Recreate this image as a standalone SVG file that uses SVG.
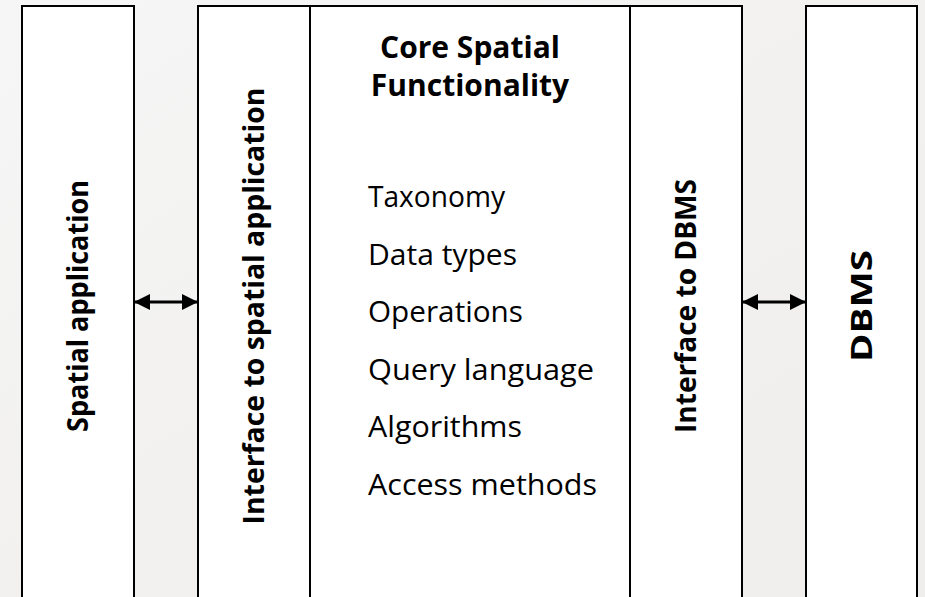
<svg xmlns="http://www.w3.org/2000/svg" width="925" height="597" viewBox="0 0 925 597">
<style>
.box{fill:#ffffff;stroke:#000000;stroke-width:2}
.vlab{font-family:"Open Sans","Noto Sans","Liberation Sans",sans-serif;font-weight:bold;font-size:28px;fill:#000;text-anchor:middle}
.title{font-family:"Open Sans","Noto Sans","Liberation Sans",sans-serif;font-weight:bold;font-size:30px;fill:#000;text-anchor:middle}
.item{font-family:"Open Sans","Noto Sans","Liberation Sans",sans-serif;font-size:29.5px;fill:#000}
.conn{stroke:#000;stroke-width:3;fill:none;marker-start:url(#ah);marker-end:url(#ah)}
</style>
<defs>
<linearGradient id="bg" x1="0" y1="0" x2="1" y2="1">
<stop offset="0" stop-color="#f6f6f6"/>
<stop offset="0.5" stop-color="#f2f1f0"/>
<stop offset="1" stop-color="#efeeec"/>
</linearGradient>
<marker id="ah" viewBox="0 0 16 16" refX="15" refY="8" markerWidth="16" markerHeight="16" markerUnits="userSpaceOnUse" orient="auto-start-reverse">
<path d="M0,0 L16,8 L0,16 Z" fill="#000"/>
</marker>
</defs>
<rect x="0" y="0" width="925" height="597" fill="url(#bg)"/>
<g id="spatial-application">
<rect class="box" x="22" y="6" width="112" height="620"/>
<text class="vlab" transform="translate(78,306) rotate(-90)" dy="10" textLength="252" lengthAdjust="spacingAndGlyphs">Spatial application</text>
</g>
<g id="interface-spatial">
<rect class="box" x="198" y="6" width="112" height="620"/>
<text class="vlab" transform="translate(254,306) rotate(-90)" dy="10" textLength="437" lengthAdjust="spacingAndGlyphs">Interface to spatial application</text>
</g>
<g id="core">
<rect class="box" x="310" y="6" width="320" height="620"/>
<text class="title" x="470" y="58">Core Spatial</text>
<text class="title" x="470" y="96">Functionality</text>
<text class="item" x="368" y="207" textLength="137" lengthAdjust="spacingAndGlyphs">Taxonomy</text>
<text class="item" x="368" y="265" textLength="149" lengthAdjust="spacingAndGlyphs">Data types</text>
<text class="item" x="368" y="322" textLength="155" lengthAdjust="spacingAndGlyphs">Operations</text>
<text class="item" x="368" y="380" textLength="226" lengthAdjust="spacingAndGlyphs">Query language</text>
<text class="item" x="368" y="437" textLength="154" lengthAdjust="spacingAndGlyphs">Algorithms</text>
<text class="item" x="368" y="495" textLength="229" lengthAdjust="spacingAndGlyphs">Access methods</text>
</g>
<g id="interface-dbms">
<rect class="box" x="630" y="6" width="112" height="620"/>
<text class="vlab" transform="translate(686,306) rotate(-90)" dy="10" textLength="254" lengthAdjust="spacingAndGlyphs">Interface to DBMS</text>
</g>
<g id="dbms">
<rect class="box" x="806" y="6" width="111" height="620"/>
<text class="vlab" transform="translate(862,306) rotate(-90)" dy="10" textLength="112" lengthAdjust="spacingAndGlyphs">DBMS</text>
</g>
<g id="connectors">
<line class="conn" x1="135" y1="302" x2="197" y2="302"/>
<line class="conn" x1="743" y1="302" x2="805" y2="302"/>
</g>
</svg>
